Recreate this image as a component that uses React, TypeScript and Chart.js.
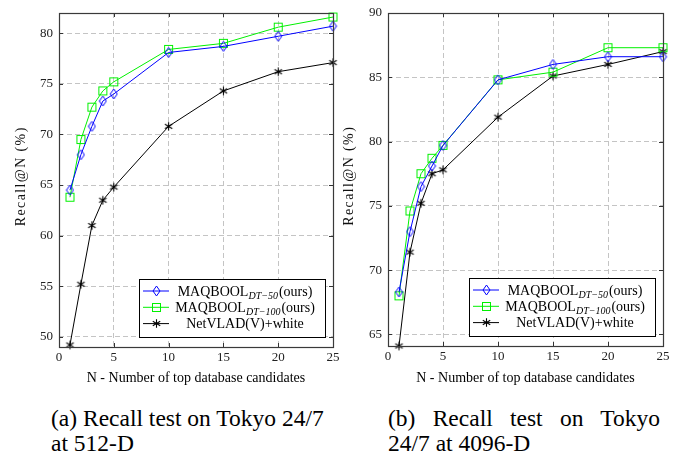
import React, { useEffect, useRef } from 'react';
import { Chart, registerables } from 'chart.js';

Chart.register(...registerables);

// ---------- data ----------
const N_VALUES = [1, 2, 3, 4, 5, 10, 15, 20, 25];
const X_TICKS = [0, 5, 10, 15, 20, 25];

const A_DT50 = [64.5, 68.0, 70.8, 73.3, 74.0, 78.1, 78.7, 79.7, 80.7];
const A_DT100 = [63.8, 69.5, 72.7, 74.3, 75.2, 78.4, 79.0, 80.6, 81.6];
const A_NETVLAD = [49.2, 55.2, 61.0, 63.5, 64.8, 70.8, 74.3, 76.2, 77.1];
const A_Y_TICKS = [50, 55, 60, 65, 70, 75, 80];

const B_DT50 = [68.3, 73.0, 76.5, 78.1, 79.7, 84.8, 86.0, 86.6, 86.6];
const B_DT100 = [68.0, 74.6, 77.5, 78.7, 79.7, 84.8, 85.4, 87.3, 87.3];
const B_NETVLAD = [64.1, 71.4, 75.2, 77.5, 77.8, 81.9, 85.1, 86.0, 87.0];
const B_Y_TICKS = [65, 70, 75, 80, 85, 90];

const LEGEND_MAIN = ['MAQBOOL', 'MAQBOOL', 'NetVLAD(V)+white'];
const LEGEND_SUB = ['DT\u221250', 'DT\u2212100', ''];
const LEGEND_TAIL = ['(ours)', '(ours)', ''];

const X_TITLE = 'N - Number of top database candidates';
const Y_TITLE = 'Recall@N (%)';
const CAPTION_A = ['(a) Recall test on Tokyo 24/7', 'at 512-D'];
const CAPTION_B = ['(b) Recall test on Tokyo', '24/7 at 4096-D'];

const COLORS = ['#0000ff', '#00f000', '#000000'];
const SERIF = '"Liberation Serif", "Times New Roman", serif';

// ---------- markers ----------
function makeDiamond(color: string) {
  const c = document.createElement('canvas');
  c.width = 9; c.height = 12;
  const g = c.getContext('2d')!;
  g.strokeStyle = color; g.lineWidth = 1;
  g.beginPath();
  g.moveTo(4.5, 1); g.lineTo(8, 6); g.lineTo(4.5, 11); g.lineTo(1, 6);
  g.closePath(); g.stroke();
  return c;
}
function makeSquare(color: string) {
  const c = document.createElement('canvas');
  c.width = 11; c.height = 11;
  const g = c.getContext('2d')!;
  g.strokeStyle = color; g.lineWidth = 1;
  g.strokeRect(1.5, 1.5, 8, 8);
  return c;
}
function makeAsterisk(color: string) {
  const c = document.createElement('canvas');
  c.width = 11; c.height = 11;
  const g = c.getContext('2d')!;
  g.strokeStyle = color; g.lineWidth = 1.1;
  const r = 4.3;
  g.beginPath();
  [90, 30, 150].forEach((deg) => {
    const a = (deg * Math.PI) / 180;
    g.moveTo(5.5 - r * Math.cos(a), 5.5 - r * Math.sin(a));
    g.lineTo(5.5 + r * Math.cos(a), 5.5 + r * Math.sin(a));
  });
  g.stroke();
  return c;
}

// ---------- plugins ----------
const framePlugin = {
  id: 'pgfFrame',
  afterDatasetsDraw(chart: any) {
    const { ctx, chartArea: a, scales } = chart;
    ctx.save();
    ctx.strokeStyle = '#333';
    ctx.lineWidth = 1;
    const tl = 4;
    ctx.beginPath();
    scales.x.ticks.forEach((t: any) => {
      const x = Math.round(scales.x.getPixelForValue(t.value)) + 0.5;
      ctx.moveTo(x, a.bottom); ctx.lineTo(x, a.bottom - tl);
      ctx.moveTo(x, a.top); ctx.lineTo(x, a.top + tl);
    });
    scales.y.ticks.forEach((t: any) => {
      const y = Math.round(scales.y.getPixelForValue(t.value)) + 0.5;
      ctx.moveTo(a.left, y); ctx.lineTo(a.left + tl, y);
      ctx.moveTo(a.right, y); ctx.lineTo(a.right - tl, y);
    });
    ctx.stroke();
    ctx.lineWidth = 1.2;
    ctx.strokeStyle = '#3a3a3a';
    ctx.strokeRect(Math.round(a.left) + 0.5, Math.round(a.top) + 0.5,
      Math.round(a.right) - Math.round(a.left), Math.round(a.bottom) - Math.round(a.top));
    ctx.restore();
  },
};

const yTitlePlugin = {
  id: 'pgfYTitle',
  afterDraw(chart: any) {
    const { ctx, chartArea: a } = chart;
    const cx = (chart.canvas as any).$titleX as number;
    if (cx === undefined) return;
    ctx.save();
    ctx.translate(cx, (a.top + a.bottom) / 2 - 3);
    ctx.rotate(-Math.PI / 2);
    ctx.font = `14px ${SERIF}`;
    (ctx as any).letterSpacing = '1.4px';
    ctx.textAlign = 'center';
    ctx.textBaseline = 'middle';
    ctx.fillStyle = '#111';
    ctx.fillText(Y_TITLE, 0.7, 0);
    ctx.restore();
  },
};

const legendPlugin = {
  id: 'pgfLegend',
  afterDraw(chart: any) {
    const { ctx, chartArea: a } = chart;
    const markers = (chart.canvas as any).$markers as HTMLCanvasElement[] | undefined;
    if (!markers) return;
    const w = 186, h = 58;
    const right = a.right - 0.03 * (a.right - a.left);
    const bottom = a.bottom - 0.03 * (a.bottom - a.top);
    const x = Math.round(right - w), y = Math.round(bottom - h);
    ctx.save();
    ctx.fillStyle = '#fff';
    ctx.fillRect(x, y, w, h);
    ctx.strokeStyle = '#000';
    ctx.lineWidth = 1;
    ctx.strokeRect(x + 0.5, y + 0.5, w, h);
    for (let i = 0; i < 3; i++) {
      const cy = y + 12 + i * 16.3;
      ctx.strokeStyle = COLORS[i];
      ctx.lineWidth = 1;
      ctx.beginPath();
      ctx.moveTo(x + 4, cy); ctx.lineTo(x + 30, cy);
      ctx.stroke();
      const m = markers[i];
      ctx.drawImage(m, Math.round(x + 17 - m.width / 2), Math.round(cy - m.height / 2));
      const mainFont = `14px ${SERIF}`;
      const subFont = `italic 10px ${SERIF}`;
      ctx.font = mainFont;
      const w1 = ctx.measureText(LEGEND_MAIN[i]).width;
      const w3 = ctx.measureText(LEGEND_TAIL[i]).width;
      ctx.font = subFont;
      const w2 = LEGEND_SUB[i] ? ctx.measureText(LEGEND_SUB[i]).width + 1 : 0;
      const total = w1 + w2 + w3;
      let tx = x + 106 - total / 2;
      const base = cy + 4.5;
      ctx.fillStyle = '#000';
      ctx.textBaseline = 'alphabetic';
      ctx.textAlign = 'left';
      ctx.font = mainFont;
      ctx.fillText(LEGEND_MAIN[i], tx, base);
      tx += w1;
      if (LEGEND_SUB[i]) {
        ctx.font = subFont;
        ctx.fillText(LEGEND_SUB[i], tx, base + 3);
        tx += w2;
      }
      ctx.font = mainFont;
      ctx.fillText(LEGEND_TAIL[i], tx, base);
    }
    ctx.restore();
  },
};

// ---------- chart ----------
type PanelProps = {
  series: number[][];
  yMin: number;
  yMax: number;
  yTicks: number[];
  left: number;
  width: number;
  yAxisWidth: number;
  xAxisHeight: number;
  padRight: number;
  yTitleX: number;
};

const CANVAS_H = 395;

function Panel(p: PanelProps) {
  const ref = useRef<HTMLCanvasElement>(null);
  useEffect(() => {
    const markers = [makeDiamond(COLORS[0]), makeSquare(COLORS[1]), makeAsterisk(COLORS[2])];
    (ref.current as any).$markers = markers;
    (ref.current as any).$titleX = p.yTitleX;
    const tickFont = { family: SERIF, size: 13 };
    const chart: any = new Chart(ref.current!, {
      type: 'line',
      data: {
        datasets: p.series.map((vals, i) => ({
          data: N_VALUES.map((n, j) => ({ x: n, y: vals[j] })),
          borderColor: COLORS[i],
          borderWidth: 1,
          tension: 0,
          pointStyle: markers[i],
          pointRadius: 4,
          clip: false,
          fill: false,
        })),
      },
      options: {
        animation: false,
        responsive: false,
        events: [],
        layout: { padding: { left: 0, top: 13, right: p.padRight, bottom: 0 } },
        plugins: { legend: { display: false }, tooltip: { enabled: false } },
        scales: {
          x: {
            type: 'linear',
            min: 0,
            max: 25,
            afterBuildTicks: (s: any) => { s.ticks = X_TICKS.map((v) => ({ value: v })); },
            afterFit: (s: any) => { s.height = p.xAxisHeight; s.paddingLeft = 0; s.paddingRight = 0; },
            grid: { color: '#c4c4c4', lineWidth: 1, drawTicks: false },
            border: { display: false, dash: [5, 3] },
            ticks: { font: tickFont, color: '#222', padding: 3, maxRotation: 0 },
            title: {
              display: true, text: X_TITLE, color: '#000',
              font: { family: SERIF, size: 14 }, padding: { top: 0, bottom: 8.5 },
            },
          },
          y: {
            type: 'linear',
            min: p.yMin,
            max: p.yMax,
            afterBuildTicks: (s: any) => { s.ticks = p.yTicks.map((v) => ({ value: v })); },
            afterFit: (s: any) => { s.width = p.yAxisWidth; s.paddingTop = 0; s.paddingBottom = 0; },
            grid: { color: '#c4c4c4', lineWidth: 1, drawTicks: false },
            border: { display: false, dash: [5, 3] },
            ticks: { font: tickFont, color: '#222', padding: 6 },
            title: { display: false },
          },
        },
      } as any,
      plugins: [framePlugin, yTitlePlugin, legendPlugin],
    });
    return () => chart.destroy();
  }, []);
  return (
    <canvas
      ref={ref}
      width={p.width}
      height={CANVAS_H}
      style={{ position: 'absolute', left: p.left, top: 0, width: p.width, height: CANVAS_H }}
    />
  );
}

const captionStyle: React.CSSProperties = {
  position: 'absolute',
  top: 406,
  fontFamily: SERIF,
  fontSize: '23.5px',
  lineHeight: '25px',
  color: '#000',
  whiteSpace: 'nowrap',
};

export default function App() {
  useEffect(() => {
    document.body.style.margin = '0';
  }, []);
  return (
    <div style={{ position: 'relative', width: 673, height: 455, background: '#fff', overflow: 'hidden' }}>
      <Panel
        series={[A_DT50, A_DT100, A_NETVLAD]}
        yMin={49}
        yMax={82}
        yTicks={A_Y_TICKS}
        left={0}
        width={340}
        yAxisWidth={59}
        xAxisHeight={48}
        padRight={7}
        yTitleX={21.5}
      />
      <Panel
        series={[B_DT50, B_DT100, B_NETVLAD]}
        yMin={64.1}
        yMax={90}
        yTicks={B_Y_TICKS}
        left={340}
        width={333}
        yAxisWidth={48}
        xAxisHeight={49}
        padRight={10}
        yTitleX={9.5}
      />
      <div style={{ ...captionStyle, left: 51 }}>
        <div>{CAPTION_A[0]}</div>
        <div>{CAPTION_A[1]}</div>
      </div>
      <div style={{ ...captionStyle, left: 388, width: 272 }}>
        <div style={{ textAlign: 'justify', textAlignLast: 'justify', whiteSpace: 'normal' }}>{CAPTION_B[0]}</div>
        <div>{CAPTION_B[1]}</div>
      </div>
    </div>
  );
}
